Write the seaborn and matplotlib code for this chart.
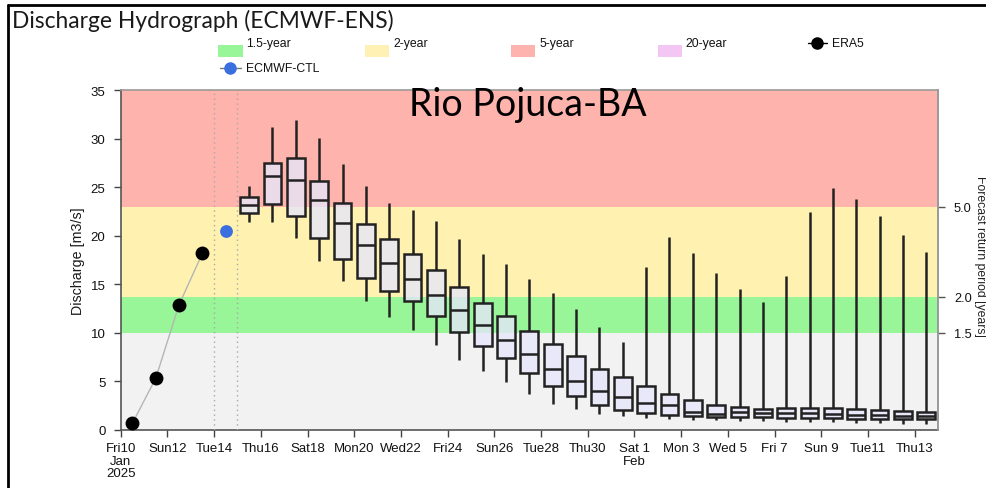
import numpy as np
import pandas as pd
import matplotlib
matplotlib.use("Agg")
import matplotlib.pyplot as plt
from matplotlib.patches import Rectangle
from matplotlib.lines import Line2D
import seaborn as sns

# ---------------------------------------------------------------- data
start_date = "2025-01-10"

era5_dates = ["2025-01-10", "2025-01-11", "2025-01-12", "2025-01-13"]
era5_values = [0.69, 5.32, 12.90, 18.19]

ctl_dates = ["2025-01-14"]
ctl_values = [20.52]

ens_dates = pd.date_range("2025-01-15", "2025-02-13", freq="D")
ens_min = [21.45, 21.38, 19.77, 17.43, 15.37, 13.31, 11.63, 10.33, 8.78, 7.24,
           6.04, 4.98, 3.71, 2.71, 2.16, 1.65, 1.41, 1.20, 1.13, 1.06,
           1.03, 0.96, 0.89, 0.86, 0.79, 0.79, 0.69, 0.69, 0.62, 0.62]
ens_q1 = [22.34, 23.30, 22.00, 19.73, 17.60, 15.68, 14.31, 13.28, 11.77, 10.09,
          8.68, 7.41, 5.87, 4.50, 3.47, 2.60, 2.09, 1.78, 1.58, 1.40,
          1.35, 1.37, 1.37, 1.27, 1.20, 1.20, 1.13, 1.13, 1.13, 1.13]
ens_median = [23.20, 26.12, 25.70, 23.65, 21.31, 19.04, 17.16, 15.58, 13.90, 12.32,
              10.84, 9.30, 7.82, 6.31, 5.08, 4.01, 3.40, 2.78, 2.61, 1.81,
              1.60, 1.89, 1.78, 1.71, 1.71, 1.65, 1.58, 1.54, 1.47, 1.47]
ens_q3 = [23.95, 27.49, 27.97, 25.60, 23.37, 21.24, 19.66, 18.08, 16.47, 14.75,
          13.10, 11.77, 10.16, 8.82, 7.59, 6.28, 5.49, 4.56, 3.67, 3.12,
          2.57, 2.33, 2.13, 2.30, 2.23, 2.30, 2.16, 2.09, 1.92, 1.89]
ens_max = [25.09, 31.16, 31.91, 30.03, 27.38, 25.08, 23.37, 22.65, 21.51, 19.66,
           18.08, 17.05, 15.54, 14.07, 12.46, 10.64, 9.09, 16.81, 19.83, 18.19,
           16.15, 14.52, 13.21, 15.89, 22.41, 24.95, 23.78, 22.03, 20.10, 18.29]

# return-period thresholds (discharge) and their labels
threshold_values = [10.0, 13.7, 23.0]
threshold_labels = ["1.5", "2.0", "5.0"]

x_tick_labels = ["Fri10\nJan\n2025", "Sun12", "Tue14", "Thu16", "Sat18", "Mon20",
                 "Wed22", "Fri24", "Sun26", "Tue28", "Thu30", "Sat 1\nFeb",
                 "Mon 3", "Wed 5", "Fri 7", "Sun 9", "Tue11", "Thu13"]

legend_labels = ["1.5-year", "2-year", "5-year", "20-year", "ERA5", "ECMWF-CTL"]

# ---------------------------------------------------------------- helpers
t0 = pd.Timestamp(start_date)


def day_pos(dates):
    """Position of each daily value: noon of the day, in days since start."""
    return np.array([(pd.Timestamp(d) - t0).days + 0.5 for d in dates])


# long table: five summary values per day -> quartiles fall exactly on them
ens_pos = day_pos(ens_dates)
rows = []
for p, a, b, c, d, e in zip(ens_pos, ens_min, ens_q1, ens_median, ens_q3, ens_max):
    for v in (a, b, c, d, e):
        rows.append({"pos": p, "discharge": v})
ens_df = pd.DataFrame(rows)

era5_df = pd.DataFrame({"pos": day_pos(era5_dates), "discharge": era5_values})
ctl_df = pd.DataFrame({"pos": day_pos(ctl_dates), "discharge": ctl_values})

# ---------------------------------------------------------------- style
sns.set_style("ticks")
plt.rcParams["font.family"] = ["Liberation Sans", "DejaVu Sans"]

W, H = 986, 489
fig = plt.figure(figsize=(W / 100, H / 100), dpi=100)
ax = fig.add_axes([120.7 / W, 1 - 431 / H, (938 - 120.7) / W, (431 - 91) / H])

band_colors = ["#f2f2f2", "#98f598", "#fff2b0", "#ffb3ad"]
band_edges = [0.0] + threshold_values + [35.0]
for lo, hi, col in zip(band_edges[:-1], band_edges[1:], band_colors):
    ax.axhspan(lo, hi, color=col, lw=0, zorder=0)

for v in (4, 5):
    ax.axvline(v, color="#a8a8a8", lw=1.0, ls=(0, (1, 2.5)), zorder=1)

# ensemble boxes
n_before = len(ax.patches)
sns.boxplot(data=ens_df, x="pos", y="discharge", native_scale=True, orient="x",
            whis=(0, 100), width=0.76, showcaps=False, showfliers=False,
            color="#e6e6fa", linecolor="#222222", linewidth=1.8, ax=ax)
for p in ax.patches[n_before:]:
    p.set_facecolor((0.902, 0.902, 0.98, 0.78))
    p.set_zorder(3)
for ln in ax.lines:
    ln.set_zorder(3.5)

# ERA5 reanalysis
sns.lineplot(data=era5_df, x="pos", y="discharge", color="#b5b5b5", lw=1.0, ax=ax,
             zorder=3)
sns.scatterplot(data=era5_df, x="pos", y="discharge", color="black", s=100,
                edgecolor="black", linewidth=0, ax=ax, zorder=4)
# control forecast
sns.scatterplot(data=ctl_df, x="pos", y="discharge", color="#3b6fe0", s=85,
                linewidth=0, ax=ax, zorder=4)

ax.set_xlim(0, 35)
ax.set_ylim(0, 35)
ax.set_xticks(np.arange(0, 35, 2))
ax.set_xticklabels(x_tick_labels, linespacing=1.05)
ax.set_yticks(np.arange(0, 36, 5))
ax.set_xlabel("")
ax.set_ylabel("Discharge [m3/s]", fontsize=10.3, color="#1a1a1a")
ax.yaxis.set_label_coords((85 - 120.7) / (938 - 120.7), 0.5)
ax.tick_params(axis="both", labelsize=9.5, labelcolor="#111111", color="#444444",
               length=5, width=1)
ax.tick_params(axis="y", pad=6)
ax.tick_params(axis="x", pad=4)
ax.grid(False)

for side in ("left", "bottom"):
    ax.spines[side].set_color("#555555")
    ax.spines[side].set_linewidth(1.2)
for side in ("top", "right"):
    ax.spines[side].set_visible(True)
    ax.spines[side].set_color("#9a9a9a")
    ax.spines[side].set_linewidth(1.2)

# return-period axis on the right
ax2 = ax.twinx()
ax2.set_ylim(0, 35)
ax2.set_yticks(threshold_values)
ax2.set_yticklabels(threshold_labels)
ax2.tick_params(axis="y", labelsize=9.2, labelcolor="#111111", color="#555555",
                length=5, width=1, pad=6.5)
for side in ("left", "bottom", "top"):
    ax2.spines[side].set_visible(False)
ax2.spines["right"].set_color("#9a9a9a")
ax2.spines["right"].set_linewidth(1.2)
fig.text(979.5 / W, 1 - 256 / H, "Forecast return period [years]", rotation=270,
         ha="center", va="center", fontsize=8.8, color="#222222")

# titles
fig.text(12 / W, 1 - 21 / H, "Discharge Hydrograph (ECMWF-ENS)",
         family=["Lato", "DejaVu Sans"], fontsize=16.4, color="#1a1a1a",
         ha="left", va="center")
fig.text(527.5 / W, 1 - 105 / H, "Rio Pojuca-BA", family=["Lato", "DejaVu Sans"],
         fontsize=27, color="black", ha="center", va="center")

# legend
patch_colors = ["#98f598", "#fff0b3", "#ffb3ae", "#f3c6f3"]
patch_x = [218.3, 365.0, 511.0, 657.7]
for lab, col, px in zip(legend_labels[:4], patch_colors, patch_x):
    fig.add_artist(Rectangle((px / W, 1 - 58.3 / H), 24.4 / W, 12.3 / H,
                             transform=fig.transFigure, facecolor=col,
                             edgecolor="none"))
    fig.text((px + 28) / W, 1 - 44.3 / H, lab, fontsize=8.8, color="#111111",
             ha="left", va="center")

for lab, col, x0, x1, xm, y in [(legend_labels[4], "black", 807.7, 826.7, 816.7, 44.3),
                                (legend_labels[5], "#3b6fe0", 220.0, 240.7, 230.0, 69.0)]:
    fig.add_artist(Line2D([x0 / W, x1 / W], [1 - y / H, 1 - y / H],
                          transform=fig.transFigure,
                          color="#777777" if col != "black" else "black", lw=1))
    fig.add_artist(Line2D([xm / W], [1 - y / H], transform=fig.transFigure,
                          marker="o", ms=8, color=col, lw=0))
    fig.text((x1 + 5) / W, 1 - y / H, lab, fontsize=8.8, color="#111111",
             ha="left", va="center")

# outer frame
fig.add_artist(Line2D([7.5 / W, 1], [1 - 5.5 / H, 1 - 5.5 / H],
                      transform=fig.transFigure, color="black", lw=2))
fig.add_artist(Line2D([7.5 / W, 7.5 / W], [0, 1 - 5.5 / H],
                      transform=fig.transFigure, color="black", lw=2))

fig.savefig("out.png", dpi=100)
